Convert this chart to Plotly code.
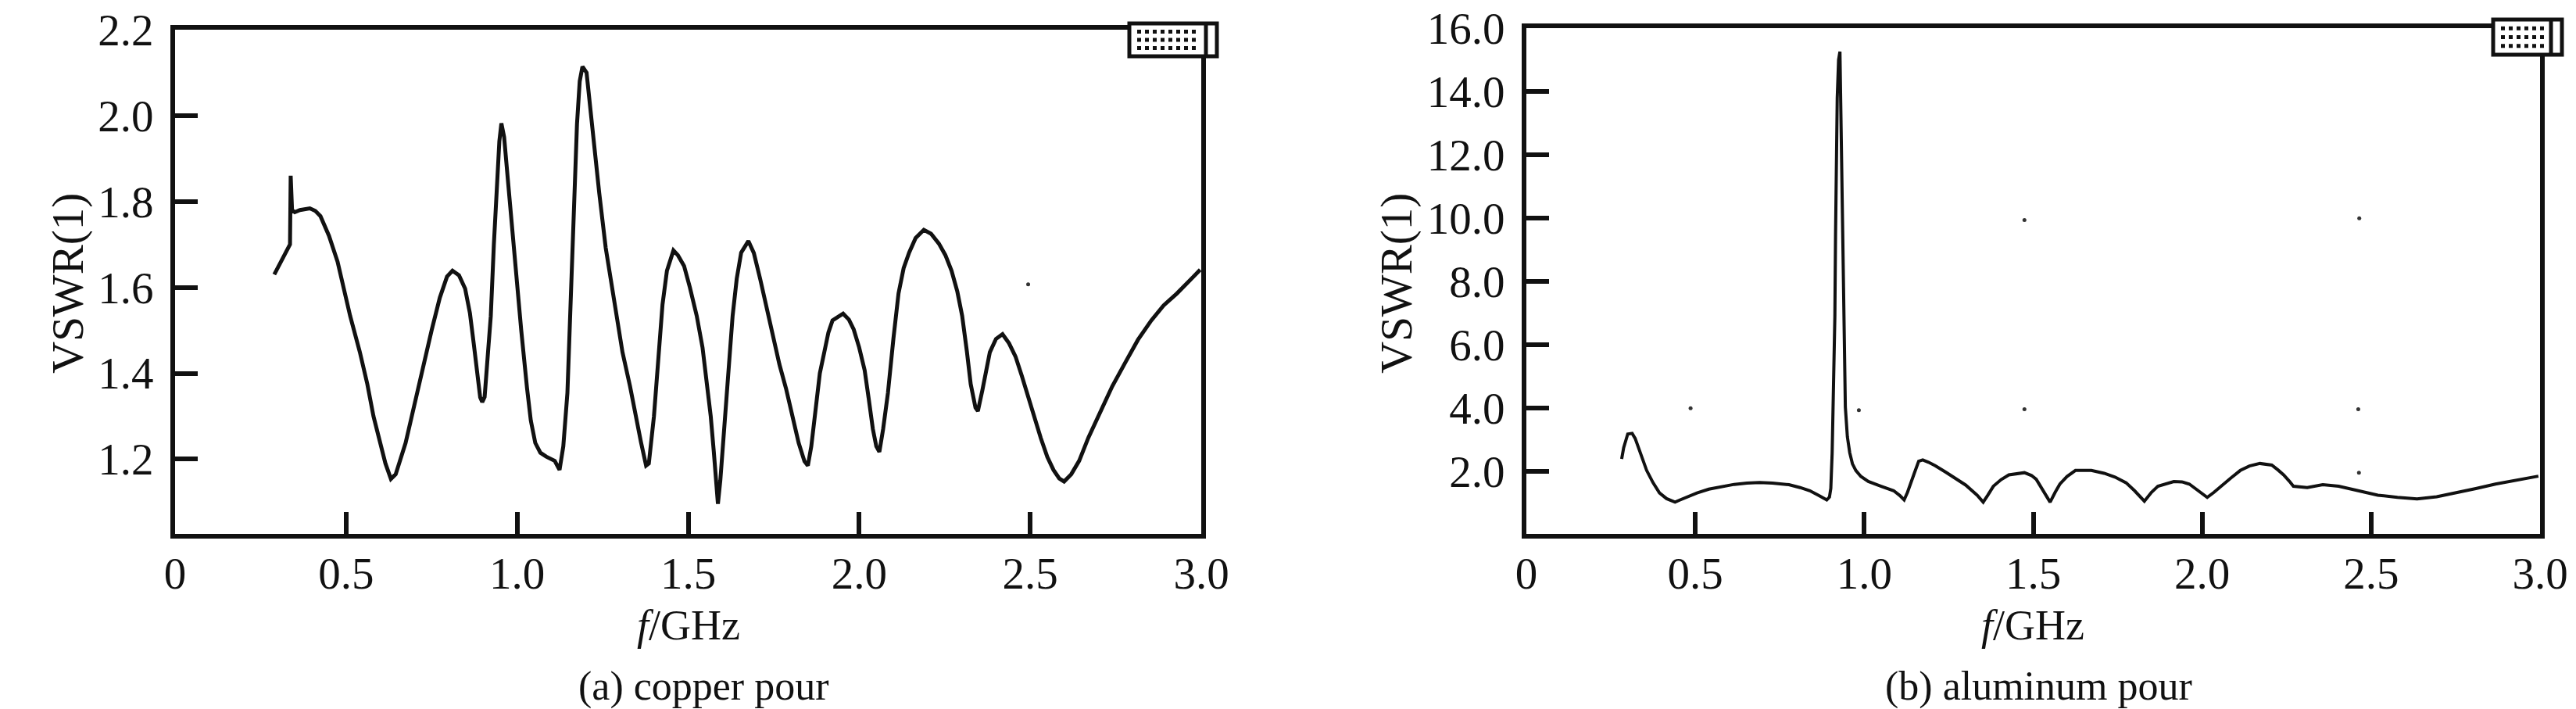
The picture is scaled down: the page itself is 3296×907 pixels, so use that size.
import plotly.graph_objects as go

# ---------------- data ----------------
freq_cu = [0.290, 0.310, 0.332, 0.336, 0.338, 0.342, 0.350, 0.365, 0.394, 0.410, 0.425, 0.450, 0.475,
           0.512, 0.540, 0.562, 0.580, 0.600, 0.615, 0.631, 0.645, 0.674, 0.700, 0.724, 0.750, 0.774,
           0.795, 0.811, 0.830, 0.848, 0.862, 0.873, 0.885, 0.892, 0.898, 0.905, 0.915, 0.923, 0.932,
           0.941, 0.948, 0.954, 0.962, 0.973, 0.985, 0.998, 1.012, 1.029, 1.040, 1.053, 1.068, 1.085,
           1.110, 1.124, 1.135, 1.147, 1.155, 1.166, 1.175, 1.183, 1.191, 1.203, 1.212, 1.222, 1.240,
           1.259, 1.285, 1.308, 1.330, 1.346, 1.362, 1.377, 1.385, 1.400, 1.413, 1.425, 1.438, 1.457,
           1.470, 1.488, 1.505, 1.525, 1.542, 1.556, 1.566, 1.575, 1.582, 1.587, 1.594, 1.606, 1.618,
           1.630, 1.642, 1.655, 1.676, 1.692, 1.711, 1.730, 1.748, 1.767, 1.786, 1.805, 1.823, 1.840,
           1.850, 1.860, 1.873, 1.885, 1.898, 1.910, 1.922, 1.953, 1.970, 1.984, 2.000, 2.016, 2.028,
           2.040, 2.050, 2.059, 2.070, 2.084, 2.100, 2.115, 2.130, 2.146, 2.165, 2.189, 2.210, 2.233,
           2.252, 2.270, 2.287, 2.301, 2.315, 2.326, 2.340, 2.347, 2.360, 2.382, 2.400, 2.419, 2.438,
           2.457, 2.475, 2.494, 2.512, 2.531, 2.550, 2.568, 2.585, 2.599, 2.620, 2.643, 2.670, 2.705,
           2.740, 2.780, 2.815, 2.854, 2.890, 2.929, 2.965, 2.997]
vswr_cu = [1.630, 1.660, 1.697, 1.700, 1.860, 1.780, 1.775, 1.780, 1.784, 1.778, 1.766, 1.720, 1.660,
           1.533, 1.450, 1.375, 1.300, 1.238, 1.190, 1.154, 1.165, 1.238, 1.330, 1.407, 1.500, 1.576,
           1.625, 1.639, 1.628, 1.597, 1.540, 1.470, 1.380, 1.344, 1.333, 1.345, 1.450, 1.533, 1.700,
           1.829, 1.940, 1.982, 1.950, 1.850, 1.740, 1.618, 1.500, 1.365, 1.290, 1.238, 1.215, 1.206,
           1.196, 1.175, 1.230, 1.354, 1.550, 1.829, 1.980, 2.080, 2.114, 2.100, 2.030, 1.956, 1.820,
           1.692, 1.560, 1.449, 1.370, 1.300, 1.240, 1.185, 1.190, 1.300, 1.428, 1.560, 1.639, 1.686,
           1.675, 1.650, 1.600, 1.534, 1.460, 1.375, 1.300, 1.217, 1.150, 1.096, 1.150, 1.270, 1.410,
           1.534, 1.620, 1.681, 1.708, 1.680, 1.618, 1.550, 1.481, 1.420, 1.365, 1.300, 1.238, 1.195,
           1.185, 1.230, 1.322, 1.400, 1.449, 1.495, 1.523, 1.539, 1.525, 1.502, 1.460, 1.407, 1.340,
           1.270, 1.230, 1.217, 1.270, 1.354, 1.480, 1.586, 1.645, 1.681, 1.715, 1.734, 1.725, 1.702,
           1.675, 1.639, 1.590, 1.534, 1.450, 1.375, 1.320, 1.312, 1.360, 1.449, 1.480, 1.491, 1.470,
           1.439, 1.395, 1.344, 1.295, 1.249, 1.205, 1.175, 1.155, 1.148, 1.165, 1.196, 1.250, 1.312,
           1.370, 1.428, 1.478, 1.523, 1.558, 1.586, 1.615, 1.641]

freq_al = [0.282, 0.288, 0.300, 0.313, 0.322, 0.332, 0.345, 0.356, 0.375, 0.394, 0.415, 0.440, 0.455,
           0.480, 0.505, 0.540, 0.579, 0.615, 0.653, 0.690, 0.728, 0.777, 0.810, 0.839, 0.865, 0.889,
           0.897, 0.901, 0.905, 0.907, 0.910, 0.913, 0.915, 0.917, 0.920, 0.924, 0.928, 0.932, 0.936,
           0.939, 0.941, 0.944, 0.950, 0.957, 0.965, 0.975, 0.990, 1.012, 1.050, 1.087, 1.105, 1.118,
           1.128, 1.136, 1.148, 1.161, 1.173, 1.190, 1.210, 1.242, 1.272, 1.300, 1.334, 1.352, 1.365,
           1.382, 1.405, 1.428, 1.474, 1.495, 1.509, 1.530, 1.550, 1.565, 1.579, 1.600, 1.625, 1.672,
           1.710, 1.742, 1.775, 1.800, 1.829, 1.850, 1.869, 1.916, 1.940, 1.962, 1.990, 2.015, 2.035,
           2.055, 2.085, 2.113, 2.140, 2.171, 2.206, 2.225, 2.241, 2.258, 2.270, 2.311, 2.357, 2.404,
           2.462, 2.520, 2.578, 2.636, 2.694, 2.752, 2.810, 2.868, 2.920, 2.960, 2.995]
vswr_al = [2.40, 2.76, 3.19, 3.21, 3.05, 2.76, 2.40, 2.04, 1.65, 1.33, 1.15, 1.04, 1.11,
           1.22, 1.33, 1.45, 1.54, 1.60, 1.64, 1.66, 1.64, 1.59, 1.50, 1.40, 1.25, 1.11,
           1.20, 1.47, 2.60, 3.47, 5.50, 6.90, 9.50, 12.2, 13.8, 15.0, 15.26, 12.5, 9.76,
           7.50, 5.60, 4.04, 3.10, 2.60, 2.25, 2.04, 1.85, 1.69, 1.54, 1.40, 1.25, 1.11,
           1.35, 1.61, 1.95, 2.33, 2.37, 2.30, 2.19, 1.98, 1.76, 1.58, 1.26, 1.04, 1.25,
           1.54, 1.75, 1.90, 1.97, 1.88, 1.76, 1.40, 1.04, 1.35, 1.61, 1.85, 2.04, 2.04,
           1.95, 1.83, 1.65, 1.40, 1.07, 1.35, 1.54, 1.69, 1.68, 1.61, 1.40, 1.19, 1.35,
           1.54, 1.80, 2.04, 2.18, 2.26, 2.21, 2.05, 1.90, 1.70, 1.54, 1.50, 1.59, 1.54,
           1.40, 1.26, 1.19, 1.14, 1.21, 1.33, 1.47, 1.61, 1.72, 1.80, 1.86]

# stray printing dots in the scanned figure
dots_cu_x = [2.494]
dots_cu_y = [1.607]
dots_al_x = [0.486, 0.984, 1.474, 1.474, 2.465, 2.462, 2.464]
dots_al_y = [4.0, 3.94, 9.94, 3.97, 10.0, 3.97, 1.97]

x_ticks = [0, 0.5, 1.0, 1.5, 2.0, 2.5, 3.0]
x_ticktext = ["0", "0.5", "1.0", "1.5", "2.0", "2.5", "3.0"]
y_ticks_cu = [1.2, 1.4, 1.6, 1.8, 2.0, 2.2]
y_ticktext_cu = ["1.2", "1.4", "1.6", "1.8", "2.0", "2.2"]
y_ticks_al = [2, 4, 6, 8, 10, 12, 14, 16]
y_ticktext_al = ["2.0", "4.0", "6.0", "8.0", "10.0", "12.0", "14.0", "16.0"]

x_title = "<i>f</i>/GHz"
y_title = "VSWR(1)"
captions = ["(a) copper pour", "(b) aluminum pour"]

# ---------------- figure ----------------
W, H = 3296, 907
FONT = "Liberation Serif, Times New Roman, serif"
INK = "#111111"

fig = go.Figure()
fig.add_trace(go.Scatter(x=freq_cu, y=vswr_cu, mode="lines", line=dict(color=INK, width=5),
                         xaxis="x", yaxis="y", showlegend=False))
fig.add_trace(go.Scatter(x=freq_al, y=vswr_al, mode="lines", line=dict(color=INK, width=4),
                         xaxis="x2", yaxis="y2", showlegend=False))
fig.add_trace(go.Scatter(x=dots_cu_x, y=dots_cu_y, mode="markers", marker=dict(color="#333", size=5),
                         xaxis="x", yaxis="y", showlegend=False))
fig.add_trace(go.Scatter(x=dots_al_x, y=dots_al_y, mode="markers", marker=dict(color="#333", size=5),
                         xaxis="x2", yaxis="y2", showlegend=False))

def px_x(p):
    return p / W

def px_y(p):
    return 1 - p / H

common_axis = dict(showline=True, linewidth=6, linecolor=INK, mirror=True, showgrid=False,
                   zeroline=False, ticks="inside", tickwidth=6, tickcolor=INK, automargin=False,
                   tickfont=dict(family=FONT, size=57, color=INK))

fig.update_layout(
    width=W, height=H,
    margin=dict(l=0, r=0, t=0, b=0),
    paper_bgcolor="white", plot_bgcolor="white",
    font=dict(family=FONT, color=INK),
    xaxis=dict(common_axis, domain=[px_x(224), px_x(1537)], range=[0, 3.0], anchor="y",
               tickvals=x_ticks, ticktext=x_ticktext, ticklen=28, ticklabelstandoff=-4),
    yaxis=dict(common_axis, domain=[px_y(683), px_y(38)], range=[1.026, 2.2], anchor="x",
               tickvals=y_ticks_cu, ticktext=y_ticktext_cu, ticklen=29, ticklabelstandoff=10),
    xaxis2=dict(common_axis, domain=[px_x(1953), px_x(3250)], range=[0, 3.0], anchor="y2",
                tickvals=x_ticks, ticktext=x_ticktext, ticklen=28, ticklabelstandoff=-4),
    yaxis2=dict(common_axis, domain=[px_y(683), px_y(36)], range=[0.037, 16], anchor="x2",
                tickvals=y_ticks_al, ticktext=y_ticktext_al, ticklen=29, ticklabelstandoff=10),
    showlegend=False,
)

# axis titles and captions placed at the reference's pixel positions
for cx in [881, 2601]:
    fig.add_annotation(x=px_x(cx), y=px_y(800), xref="paper", yref="paper", text=x_title,
                       showarrow=False, xanchor="center", yanchor="middle",
                       font=dict(family=FONT, size=54, color=INK))
for cx in [87, 1787]:
    fig.add_annotation(x=px_x(cx), y=px_y(363), xref="paper", yref="paper", text=y_title,
                       showarrow=False, xanchor="center", yanchor="middle", textangle=-90,
                       font=dict(family=FONT, size=57, color=INK))
for cx, txt in zip([900, 2608], captions):
    fig.add_annotation(x=px_x(cx), y=px_y(878), xref="paper", yref="paper", text=txt,
                       showarrow=False, xanchor="center", yanchor="middle",
                       font=dict(family=FONT, size=52, color=INK))

# garbled legend icons in the top-right corners (scan artifacts)
for (x0, x1, y0, y1) in [(1445, 1557, 30, 72), (3190, 3278, 25, 70)]:
    fig.add_shape(type="rect", xref="paper", yref="paper",
                  x0=px_x(x0), x1=px_x(x1), y0=px_y(y1), y1=px_y(y0),
                  line=dict(color=INK, width=5), fillcolor="white", layer="above")
    for k in range(3):
        yy = y0 + (y1 - y0) * (k + 1) / 4
        fig.add_shape(type="line", xref="paper", yref="paper",
                      x0=px_x(x0 + 10), x1=px_x(x1 - 22), y0=px_y(yy), y1=px_y(yy),
                      line=dict(color=INK, width=5, dash="dot"), layer="above")
    fig.add_shape(type="line", xref="paper", yref="paper",
                  x0=px_x(x1 - 14), x1=px_x(x1 - 14), y0=px_y(y1), y1=px_y(y0),
                  line=dict(color=INK, width=5), layer="above")

fig.write_html("out.html", config={"displayModeBar": False},
               post_script="document.body.style.margin='0px';document.body.style.overflow='hidden';")
